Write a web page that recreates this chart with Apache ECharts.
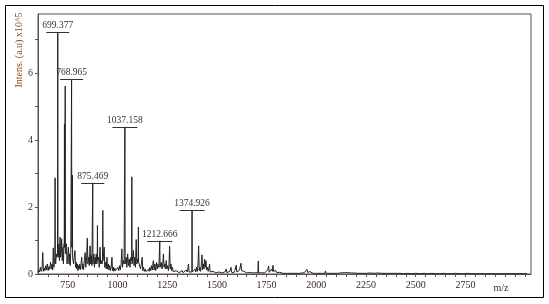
<!DOCTYPE html>
<html>
<head>
<meta charset="utf-8">
<script src="https://cdn.jsdelivr.net/npm/echarts@6/dist/echarts.min.js"></script>
<style>html,body{margin:0;padding:0;background:#fff}#c{width:549px;height:304px}</style>
</head>
<body>
<div id="c"></div>
<script>
// m/z tick labels and axis ranges
const xTickLabels = [750, 1000, 1250, 1500, 1750, 2000, 2250, 2500, 2750];
const yTickLabels = [0, 2, 4, 6];
// Annotated peaks
const peakMz = [699.377, 768.965, 875.469, 1037.158, 1212.666, 1374.926];
const peakIntensity = [7.22, 5.82, 2.72, 4.39, 0.99, 1.91];
const peakLabels = ["699.377", "768.965", "875.469", "1037.158", "1212.666", "1374.926"];
// Spectrum trace [m/z, intensity x10^5]
const spectrumPoints = [
[600,0.05],[604,0.12],[608,0.06],[612,0.2],[616,0.08],[620,0.15],[624,0.64],[627,0.08],[631,0.18],[635,0.1],
[639,0.25],[643,0.12],[647,0.3],[651,0.1],[655,0.22],[659,0.14],[663,0.35],[667,0.15],[671,0.3],[674,0.12],
[677,0.78],[680,0.2],[683,0.4],[685,0.5],[686,2.87],[687,0.5],[689,0.3],[692,0.6],[695,0.5],[698.2,0.6],[699.377,7.22],[700.5,0.6],[702,0.5],[705,0.9],
[708,0.4],[711,1.1],[714,0.5],[717,0.7],[719,1.05],[722,0.4],[725,0.8],[728,0.3],[731,0.9],[732,0.8],[733,4.48],[734,0.8],
[735,0.8],[736,0.8],[737,5.61],[738,0.7],[740,0.6],[743,0.9],[746,0.3],[749,0.5],[753,0.8],[756,0.3],[759,0.6],[762,0.25],
[765,0.7],[768,0.7],[768.965,5.82],[770,0.8],[771,0.9],[772,0.8],[773,2.95],[774,0.5],[776,0.4],[779,0.3],[782,0.5],[786,0.7],[789,0.2],[792,0.35],
[795,0.15],[798,0.3],[801,0.1],[804,0.25],[807,0.15],[810,0.3],[813,0.12],[816,0.28],[820,0.5],[823,0.15],
[826,0.3],[829,0.12],[833,0.4],[837,0.64],[840,0.2],[844,0.4],[848,1.07],[851,0.3],[854,0.5],[858,0.25],
[862,0.84],[865,0.3],[868,0.55],[871,0.25],[874.5,0.3],[875.469,2.72],[876.5,0.3],[878,0.3],[881,0.6],[884,0.2],[887,0.5],[890,0.3],
[893,0.6],[896,0.3],[898,0.4],[899,1.45],[900,0.4],[902,0.35],[905,0.5],[908,0.2],[912,0.8],[915,0.3],[918,0.4],[922,0.3],
[925,0.4],[926,1.9],[927,0.4],[929,0.4],[933,0.8],[936,0.2],[940,0.35],[943,0.15],[947,0.5],[950,0.15],[954,0.3],[957,0.12],
[961,0.25],[964,0.1],[968,0.2],[972,0.5],[975,0.1],[979,0.2],[982,0.08],[986,0.18],[990,0.1],[994,0.15],
[998,0.08],[1002,0.2],[1006,0.1],[1010,0.25],[1014,0.12],[1018,0.3],[1022,0.75],[1025,0.2],[1029,0.4],[1033,0.3],
[1036,0.3],[1037.158,4.39],[1038.3,0.3],[1040,0.3],[1044,0.5],[1047,0.2],[1051,0.6],[1055,0.25],[1059,0.45],[1063,0.2],[1067,0.5],[1071,0.4],[1072,2.9],[1073,0.3],
[1075,0.3],[1080,0.7],[1083,0.25],[1087,0.5],[1090,0.2],[1094,1.03],[1097,0.3],[1101,0.45],[1104,0.35],[1105,1.4],[1106,0.35],[1108,0.3],
[1112,0.4],[1116,0.15],[1120,0.3],[1124,0.5],[1127,0.1],[1131,0.2],[1135,0.08],[1139,0.15],[1143,0.07],[1147,0.12],
[1151,0.06],[1155,0.14],[1159,0.08],[1163,0.2],[1167,0.1],[1171,0.25],[1175,0.12],[1180,0.4],[1184,0.12],[1188,0.3],
[1192,0.1],[1196,0.35],[1200,0.15],[1204,0.3],[1208,0.2],[1211.5,0.2],[1212.666,0.99],[1214,0.2],[1216,0.2],[1220,0.35],[1224,0.15],[1228,0.3],
[1231,0.6],[1234,0.2],[1238,0.3],[1241,0.15],[1245,0.4],[1248,0.15],[1252,0.25],[1256,0.1],[1259,0.3],[1262,0.83],
[1265,0.15],[1269,0.3],[1272,0.1],[1276,0.2],[1280,0.07],[1285,0.12],[1290,0.05],[1295,0.1],[1300,0.05],[1305,0.09],
[1310,0.04],[1315,0.08],[1320,0.05],[1325,0.1],[1330,0.04],[1335,0.08],[1340,0.05],[1345,0.12],[1350,0.06],[1354,0.15],
[1357,0.3],[1360,0.06],[1365,0.1],[1370,0.05],[1374,0.06],[1374.926,1.91],[1376,0.06],[1378,0.05],[1382,0.1],[1386,0.04],[1390,0.15],[1394,0.06],
[1398,0.2],[1402,0.08],[1405,0.3],[1408,0.84],[1411,0.1],[1415,0.2],[1418,0.08],[1421,0.25],[1425,0.57],[1428,0.12],
[1432,0.3],[1435,0.15],[1438,0.44],[1441,0.2],[1445,0.4],[1448,0.12],[1452,0.2],[1456,0.08],[1459,0.15],[1463,0.3],
[1466,0.06],[1470,0.1],[1475,0.04],[1480,0.08],[1485,0.03],[1490,0.06],[1495,0.03],[1500,0.05],[1505,0.02],[1510,0.06],
[1515,0.03],[1520,0.07],[1525,0.03],[1530,0.05],[1535,0.02],[1540,0.06],[1544,0.04],[1547,0.15],[1550,0.04],[1555,0.06],
[1560,0.03],[1565,0.08],[1571,0.2],[1574,0.05],[1580,0.07],[1585,0.04],[1590,0.1],[1593,0.05],[1597,0.26],[1600,0.06],
[1605,0.1],[1610,0.05],[1614,0.12],[1618,0.08],[1621,0.32],[1624,0.1],[1628,0.15],[1632,0.05],[1636,0.08],[1640,0.03],
[1645,0.06],[1650,0.03],[1655,0.05],[1660,0.02],[1665,0.05],[1670,0.03],[1675,0.06],[1680,0.03],[1685,0.05],[1690,0.02],
[1695,0.04],[1700,0.05],[1706,0.03],[1708,0.39],[1710,0.03],[1716,0.05],[1720,0.02],[1725,0.04],[1730,0.02],[1735,0.05],
[1740,0.03],[1745,0.08],[1750,0.04],[1755,0.12],[1760,0.24],[1763,0.05],[1767,0.1],[1771,0.06],[1775,0.15],[1779,0.08],
[1782,0.26],[1785,0.08],[1789,0.12],[1793,0.05],[1797,0.1],[1801,0.04],[1806,0.07],[1811,0.03],[1816,0.05],[1821,0.02],
[1826,0.04],[1832,0.02],[1838,0.04],[1844,0.02],[1850,0.03],[1856,0.02],[1862,0.04],[1868,0.02],[1874,0.03],[1880,0.02],
[1886,0.04],[1892,0.02],[1898,0.05],[1904,0.02],[1910,0.04],[1916,0.02],[1922,0.05],[1928,0.03],[1934,0.06],[1940,0.04],
[1946,0.08],[1950,0.05],[1953,0.14],[1956,0.05],[1960,0.08],[1964,0.04],[1968,0.07],[1972,0.03],[1978,0.05],[1984,0.02],
[1990,0.04],[1996,0.02],[2002,0.03],[2008,0.02],[2014,0.03],[2020,0.02],[2026,0.04],[2032,0.02],[2038,0.03],[2043,0.02],
[2046,0.09],[2049,0.02],[2055,0.03],[2062,0.02],[2070,0.03],[2078,0.02],[2086,0.03],[2094,0.02],[2102,0.03],[2107,0.02],
[2110,0.07],[2113,0.02],[2120,0.03],[2126,0.02],[2132,0.04],[2136,0.08],[2140,0.03],[2146,0.04],[2152,0.02],[2160,0.04],
[2168,0.02],[2176,0.03],[2184,0.02],[2192,0.03],[2200,0.01],[2210,0.02],[2220,0.01],[2230,0.02],[2240,0.01],[2250,0.02],
[2260,0.01],[2270,0.03],[2280,0.01],[2290,0.02],[2300,0.01],[2310,0.03],[2320,0.01],[2330,0.02],[2340,0.01],[2350,0.02],
[2360,0.01],[2370,0.02],[2380,0.01],[2390,0.02],[2400,0.01],[2420,0.02],[2440,0.01],[2460,0.02],[2480,0.01],[2500,0.02],
[2520,0.01],[2540,0.02],[2560,0.01],[2580,0.02],[2600,0.01],[2620,0.01],[2640,0.02],[2660,0.01],[2680,0.01],[2700,0.02],
[2720,0.01],[2740,0.01],[2760,0.02],[2780,0.01],[2800,0.01],[2820,0.01],[2840,0.01],[2860,0.01],[2880,0.01],[2900,0.01],
[2920,0.01],[2940,0.01],[2960,0.01],[2980,0.01],[3000,0.01],[3020,0.01],[3040,0.01],[3060,0.01]
];

const SERIF = '"Liberation Serif", "Times New Roman", serif';
const chart = echarts.init(document.getElementById('c'), null, {renderer: 'canvas'});
const annotData = peakMz.map((m, i) => [m, peakIntensity[i], peakLabels[i]]);

chart.setOption({
  animation: false,
  backgroundColor: '#fff',
  grid: {left: 38, right: 18, top: 14, bottom: 30, show: true, borderColor: '#5a5050', borderWidth: 1, backgroundColor: 'transparent'},
  xAxis: {
    type: 'value', min: 600, max: 3080, interval: 50,
    axisLine: {show: true, onZero: false, lineStyle: {color: '#5a5050'}},
    axisTick: {show: true, length: 3, inside: false, lineStyle: {color: '#5a5050'}},
    splitLine: {show: false},
    axisLabel: {
      margin: 6, fontFamily: SERIF, fontSize: 10, color: '#3a2a20',
      showMaxLabel: false, showMinLabel: false,
      formatter: v => (xTickLabels.indexOf(v) >= 0 ? String(v) : '')
    }
  },
  yAxis: {
    type: 'value', min: 0, max: 7.76, interval: 1,
    axisLine: {show: true, lineStyle: {color: '#5a5050'}},
    axisTick: {show: true, length: 3, lineStyle: {color: '#5a5050'}},
    splitLine: {show: false},
    axisLabel: {
      margin: 5, fontFamily: SERIF, fontSize: 10, color: '#333',
      showMaxLabel: false,
      formatter: v => (yTickLabels.indexOf(v) >= 0 ? String(v) : '')
    }
  },
  graphic: [
    {type: 'rect', shape: {x: 5.5, y: 5.5, width: 538, height: 292}, style: {fill: 'none', stroke: '#000', lineWidth: 1}, silent: true},
    {type: 'text', x: 19, y: 50, rotation: Math.PI / 2, style: {text: 'Intens. (a.u) x10^5', font: '10px ' + SERIF, fill: '#8b4a1a', align: 'center', verticalAlign: 'middle'}},
    {type: 'text', x: 501, y: 288, style: {text: 'm/z', font: '10px ' + SERIF, fill: '#3a2a20', align: 'center', verticalAlign: 'middle'}}
  ],
  series: [
    {
      type: 'line', data: spectrumPoints, showSymbol: false, symbol: 'none',
      lineStyle: {color: '#222', width: 1}, silent: true, z: 2
    },
    {
      type: 'custom', data: annotData, z: 3, silent: true,
      renderItem: function (params, api) {
        const p = api.coord([api.value(0), api.value(1)]);
        const y = Math.round(p[1]) + 0.5;
        const label = peakLabels[params.dataIndex];
        const half = label.length > 7 ? 12.5 : 11.5;
        return {
          type: 'group',
          children: [
            {type: 'line', shape: {x1: p[0] - half, y1: y, x2: p[0] + half, y2: y}, style: {stroke: '#333', lineWidth: 1}},
            {type: 'text', style: {text: label, x: p[0], y: y - 2, align: 'center', verticalAlign: 'bottom', font: '9.5px ' + SERIF, fill: '#333'}}
          ]
        };
      }
    }
  ]
});
</script>
</body>
</html>
